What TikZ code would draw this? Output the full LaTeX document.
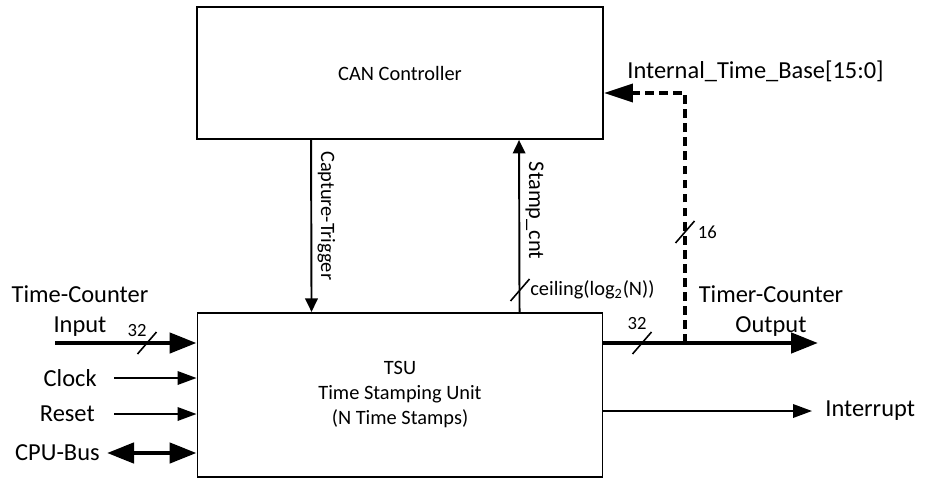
\documentclass[tikz,border=0pt]{standalone}
\usepackage{fontspec}
\setmainfont{Carlito}
\usetikzlibrary{positioning,arrows.meta,calc}
\newcommand{\lblfont}{\fontsize{13.9pt}{17pt}\selectfont}
\newcommand{\boxfont}{\fontsize{11.6pt}{14.2pt}\selectfont}
\newcommand{\stampfont}{\fontsize{12.7pt}{15pt}\selectfont}
\newcommand{\numfont}{\fontsize{10.6pt}{12pt}\selectfont}
\begin{document}
\begin{tikzpicture}[
  blk/.style={rectangle,draw,line width=1.1pt,font=\boxfont,
              align=center,inner sep=0pt},
  lbl/.style={font=\lblfont,inner sep=0pt,align=center},
  nlbl/.style={font=\numfont,inner sep=0pt},
  vlbl/.style={font=\boxfont,rotate=-90,anchor=south,inner sep=3pt},
  sig/.style={line width=1.1pt,-{Triangle[length=0.38cm,width=0.27cm]}},
  vsig/.style={line width=1.1pt,-{Triangle[length=0.27cm,width=0.25cm]}},
  bus/.style={line width=2.6pt,-{Triangle[length=0.54cm,width=0.4cm]}},
  cpubus/.style={line width=2.6pt,
              {Triangle[length=0.54cm,width=0.4cm]}-{Triangle[length=0.54cm,width=0.4cm]}},
  dsh/.style={line width=2pt,dash pattern=on 5pt off 3pt,
              -{Triangle[length=0.58cm,width=0.36cm]}},
  tick/.style={line width=0.9pt}
]
\useasboundingbox (0,0) rectangle (18.6,9.6);
\node[blk,minimum width=8.12cm,minimum height=2.64cm] (can) at (8.0,8.14) {CAN Controller};
\node[blk,minimum width=8.1cm,minimum height=3.28cm,below=3.44cm of can] (tsu)
  {TSU\\Time Stamping Unit\\(N Time Stamps)};
\coordinate (tci) at (1.10,2.74);
\coordinate (clk) at (2.28,2.04);
\coordinate (rst) at (2.28,1.32);
\coordinate (cpu) at (2.14,0.54);
\coordinate (tco) at (16.36,2.74);
\coordinate (irq) at (16.24,1.38);
\coordinate (tap) at (13.70,2.74);
\coordinate (itb) at (13.70,7.74);
\coordinate (s1) at (2.94,2.74);
\coordinate (s2) at (12.84,2.74);
\coordinate (s3) at (13.70,4.96);
\coordinate (s4) at (10.40,3.80);
\draw[vsig] ([xshift=2.3cm]can.south west) -- ([xshift=2.3cm]tsu.north west)
  node[vlbl,pos=0.44] (ctl) {Capture-Trigger};
\draw[vsig] ([xshift=6.46cm]tsu.north west) -- ([xshift=6.46cm]can.south west)
  node[vlbl,pos=0.59,font=\stampfont] (scl) {Stamp\_cnt};
\draw[bus] (tci) -- (tci -| tsu.west);
\draw[sig] (clk) -- (clk -| tsu.west);
\draw[sig] (rst) -- (rst -| tsu.west);
\draw[cpubus] (cpu) -- (cpu -| tsu.west);
\draw[dsh] (tap) -- (itb) -- (itb -| can.east);
\draw[bus] (tap -| tsu.east) -- (tco);
\draw[sig] (irq -| tsu.east) -- (irq);
\foreach \s in {s1,s2,s3,s4}
  \draw[tick] ([shift={(-0.19,-0.22)}]\s) -- ([shift={(0.19,0.22)}]\s);
\node[lbl] (tcil) at (1.60,3.38) {Time-Counter\\Input};
\node[lbl,left=0.34cm of clk] (clkl) {Clock};
\node[lbl,left=0.38cm of rst] (rstl) {Reset};
\node[lbl,left=0.14cm of cpu] (cpul) {CPU-Bus};
\node[lbl] (tcol) at (15.42,3.38) {Timer-Counter\\Output};
\node[lbl,right=0.26cm of irq] (irql) {Interrupt};
\node[lbl,anchor=base west] (itbl) at (12.54,8.04) {Internal\_Time\_Base[15:0]};
\node[nlbl,above=0.12cm of s1,xshift=-0.2cm] (w1) {32};
\node[nlbl,above=0.26cm of s2,xshift=-0.1cm] (w2) {32};
\node[nlbl,right=0.25cm of s3] (w3) {16};
\node[font=\boxfont,inner sep=0pt,right=0.2cm of s4] (w4) {ceiling(log\textsubscript{2}(N))};
\end{tikzpicture}
\end{document}
